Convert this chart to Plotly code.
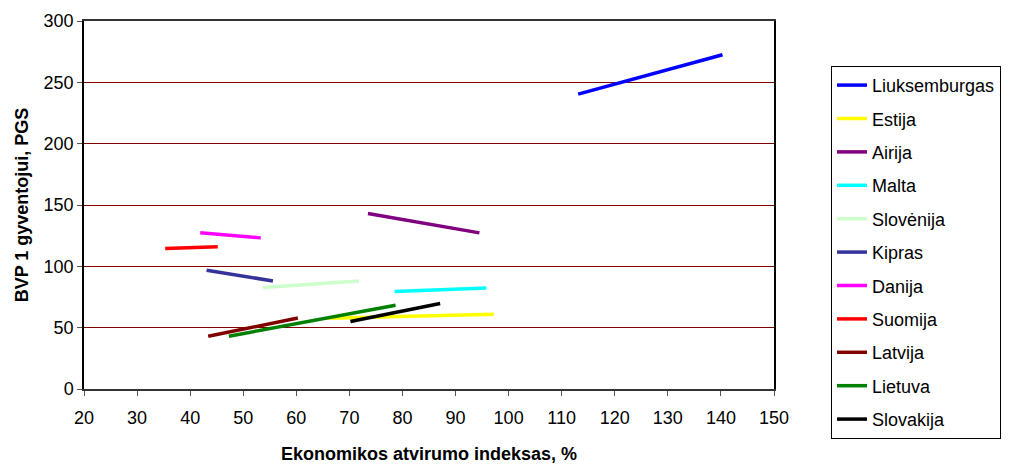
import plotly.graph_objects as go

countries = ["Liuksemburgas", "Estija", "Airija", "Malta", "Slovėnija", "Kipras",
             "Danija", "Suomija", "Latvija", "Lietuva", "Slovakija"]
colors = ["#0000FF", "#FFFF00", "#800080", "#00FFFF", "#CCFFCC", "#333399",
          "#FF00FF", "#FF0000", "#800000", "#008000", "#000000"]
openness_start = [113.1, 66.0, 73.5, 78.5, 53.7, 43.1, 41.9, 35.3, 43.4, 47.3, 70.2]
openness_end = [140.3, 97.2, 94.5, 95.8, 71.8, 55.6, 53.3, 45.2, 60.3, 78.7, 87.1]
gdp_start = [240.4, 57.6, 143.1, 79.5, 82.7, 96.8, 127.3, 114.5, 43.0, 43.0, 55.0]
gdp_end = [272.5, 60.9, 127.3, 82.4, 88.1, 88.1, 123.2, 115.9, 57.9, 68.3, 69.7]

x_ticks = list(range(20, 151, 10))
y_ticks = list(range(0, 301, 50))

FONT = "Arial, Liberation Sans, sans-serif"

fig = go.Figure()
for i, name in enumerate(countries):
    fig.add_trace(go.Scatter(
        x=[openness_start[i], openness_end[i]],
        y=[gdp_start[i], gdp_end[i]],
        mode="lines",
        name=name,
        legendgroup=name,
        line=dict(color=colors[i], width=3.5),
        hoverinfo="skip",
    ))

fig.update_layout(
    width=1021, height=464,
    margin=dict(l=84, r=247, t=21, b=75),
    paper_bgcolor="white", plot_bgcolor="white",
    font=dict(family=FONT, size=18, color="black"),
    showlegend=True,
    legend=dict(
        x=1.0826, y=0.878, xanchor="left", yanchor="top",
        bordercolor="black", borderwidth=1,
        font=dict(family=FONT, size=18, color="black"),
        tracegroupgap=7,
        itemwidth=30,
        maxheight=460,
    ),
    xaxis=dict(
        range=[20, 150], tickvals=x_ticks, ticktext=[str(v) for v in x_ticks],
        showgrid=False, zeroline=False, automargin=False,
        showline=True, linecolor="#333333", linewidth=1.5, mirror=True,
        ticks="outside", ticklen=5, tickcolor="#555555",
        ticklabelstandoff=7,
        tickfont=dict(family=FONT, size=18),
        title=dict(text="<b>Ekonomikos atvirumo indeksas, %</b>",
                   font=dict(family=FONT, size=18), standoff=22),
    ),
    yaxis=dict(
        range=[0, 300], tickvals=y_ticks, ticktext=[str(v) for v in y_ticks],
        showgrid=True, gridcolor="#800000", gridwidth=1,
        zeroline=False, automargin=False,
        showline=True, linecolor="black", linewidth=1.5, mirror=True,
        ticks="outside", ticklen=5, tickcolor="#555555",
        tickfont=dict(family=FONT, size=18),
        title=dict(text="<b>BVP 1 gyventojui, PGS</b>",
                   font=dict(family=FONT, size=18), standoff=10),
    ),
)

fig.write_html("out.html")
